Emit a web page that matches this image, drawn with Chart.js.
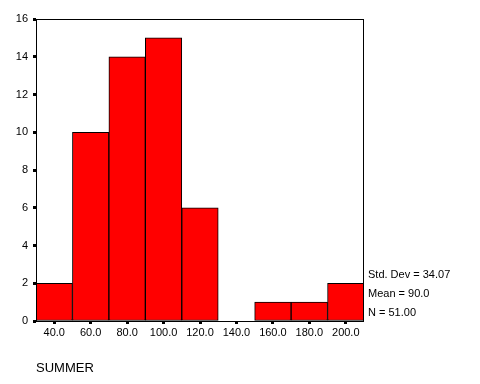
<!DOCTYPE html>
<html>
<head>
<meta charset="utf-8">
<script src="https://cdn.jsdelivr.net/npm/chart.js@4"></script>
<style>
  html, body { margin: 0; padding: 0; background: #fff; }
  #wrap { width: 480px; height: 384px; }
</style>
</head>
<body>
<div id="wrap"><canvas id="histChart" width="480" height="384"></canvas></div>
<script>
// Histogram of SUMMER
const binLabels = ['40.0', '60.0', '80.0', '100.0', '120.0', '140.0', '160.0', '180.0', '200.0'];
const binCounts = [2, 10, 14, 15, 6, 0, 1, 1, 2];
const yTicks = [0, 2, 4, 6, 8, 10, 12, 14, 16];
const statLines = ['Std. Dev = 34.07', 'Mean = 90.0', 'N = 51.00'];
const axisName = 'SUMMER';

const FONT = 'Arial, "Liberation Sans", sans-serif';

// frame + labels drawn after the chart
const framePlugin = {
    id: 'frame',
    afterDraw(chart) {
        const ctx = chart.ctx;
        const a = chart.chartArea;
        ctx.save();
        ctx.strokeStyle = '#000';
        ctx.lineWidth = 1;
        ctx.strokeRect(Math.round(a.left) + 0.5, Math.round(a.top) + 0.5,
            Math.round(a.right - a.left) - 1, Math.round(a.bottom - a.top));

        ctx.fillStyle = '#000';
        ctx.font = '11px ' + FONT;
        ctx.textAlign = 'left';
        ctx.textBaseline = 'alphabetic';
        const baselines = [278, 297, 316];
        statLines.forEach((t, i) => ctx.fillText(t, a.right + 4, baselines[i]));

        ctx.font = '13px ' + FONT;
        ctx.fillText(axisName, a.left, 372);
        ctx.restore();
    }
};

new Chart(document.getElementById('histChart'), {
    type: 'bar',
    data: {
        labels: binLabels,
        datasets: [{
            data: binCounts,
            backgroundColor: '#ff0000',
            borderColor: '#000',
            borderWidth: 1,
            borderSkipped: false,
            barPercentage: 1,
            categoryPercentage: 1
        }]
    },
    options: {
        responsive: false,
        animation: false,
        layout: { padding: { top: 19, right: 116, left: 0, bottom: 0 } },
        plugins: {
            legend: { display: false },
            tooltip: { enabled: false }
        },
        scales: {
            x: {
                grid: { drawOnChartArea: false, offset: false, tickLength: 3, tickWidth: 3, color: '#000' },
                border: { display: false },
                ticks: {
                    color: '#000',
                    font: { family: FONT, size: 11 },
                    padding: 2,
                    autoSkip: false,
                    maxRotation: 0
                },
                afterFit(scale) { scale.height = 63; }
            },
            y: {
                min: 0,
                max: 16,
                afterBuildTicks(scale) { scale.ticks = yTicks.map(v => ({ value: v })); },
                grid: { drawOnChartArea: false, tickLength: 3, tickWidth: 3, color: '#000' },
                border: { display: false },
                ticks: {
                    color: '#000',
                    font: { family: FONT, size: 11 },
                    padding: 5
                },
                afterFit(scale) { scale.width = 36; }
            }
        }
    },
    plugins: [framePlugin]
});
</script>
</body>
</html>
